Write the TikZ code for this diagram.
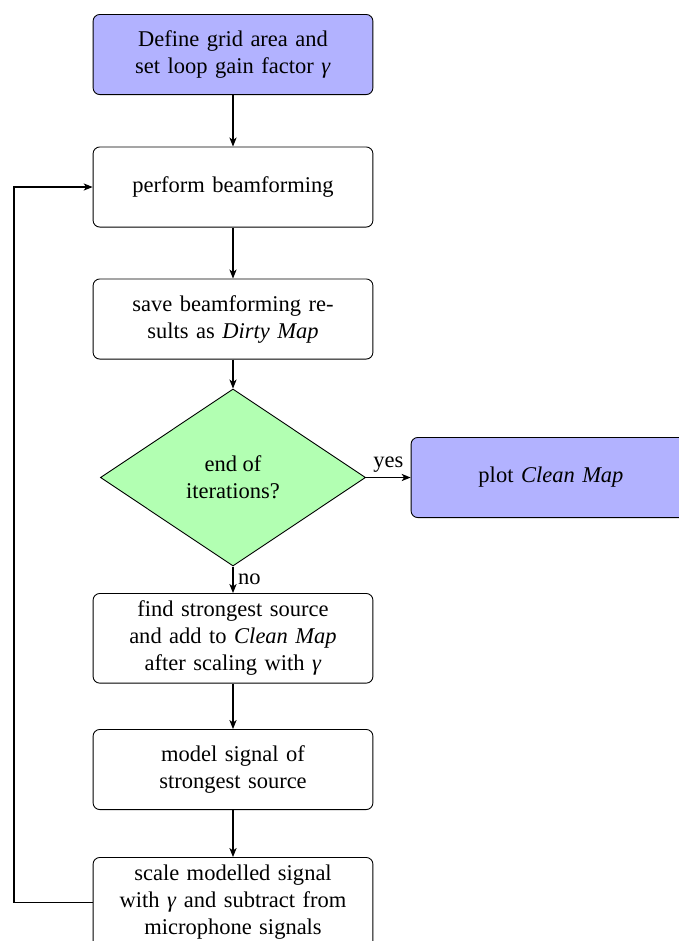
\documentclass[tikz,border=0pt]{standalone}
\usepackage{fontspec}
\setmainfont{Liberation Serif}
\usetikzlibrary{shapes.geometric,arrows.meta}

\begin{document}
\begin{tikzpicture}[x=0.4444pt,y=-0.4444pt,
  stepbox/.style={rectangle, draw=black, rounded corners=3pt, align=center,
    text width=117.7pt, inner sep=3.33pt, minimum height=35.6pt},
  termbox/.style={stepbox, fill=blue!30},
  decision/.style={diamond, draw=black, fill=green!30, align=center,
    aspect=1.5, inner sep=0pt, minimum width=117.8pt, minimum height=78.7pt},
  arr/.style={-{Stealth[length=4pt,width=3.2pt,inset=1.1pt]}, line width=0.5pt},
  lbl/.style={font=\normalsize, inner sep=2pt}
]
\useasboundingbox (0,0) rectangle (679,941);
\clip (0,0) rectangle (679,941);

% main column of steps
\node[termbox] (init) at (233,54.5) {Define grid area and\\set loop gain factor \textit{γ}};
\node[stepbox] (beam) at (233,187) {perform beamforming};
\node[stepbox] (dirty) at (233,319) {save beamforming re-\\sults as \textit{Dirty Map}};
\node[decision] (check) at (233,477.5) {end of\\iterations?};
\node[termbox] (plot) at (551,477.5) {plot \textit{Clean Map}};
\node[stepbox, anchor=north] (find) at (233,593) {find strongest source\\and add to \textit{Clean Map}\\after scaling with \textit{γ}};
\node[stepbox] (model) at (233,769.5) {model signal of\\strongest source};
\node[stepbox, anchor=north] (sub) at (233,857) {scale modelled signal\\with \textit{γ} and subtract from\\microphone signals};

% x position of the feedback line
\coordinate (loopx) at (14,0);

% connectors
\draw[arr] (init) -- (beam);
\draw[arr] (beam) -- (dirty);
\draw[arr] (dirty) -- (check);
\draw[arr] (check) -- node[lbl, above] {yes} (plot);
\draw[arr] (check) -- node[lbl, right] {no} (find);
\draw[arr] (find) -- (model);
\draw[arr] (model) -- (sub);
\draw[arr] (sub.west) -- (sub.west -| loopx) |- (beam.west);
\end{tikzpicture}
\end{document}
